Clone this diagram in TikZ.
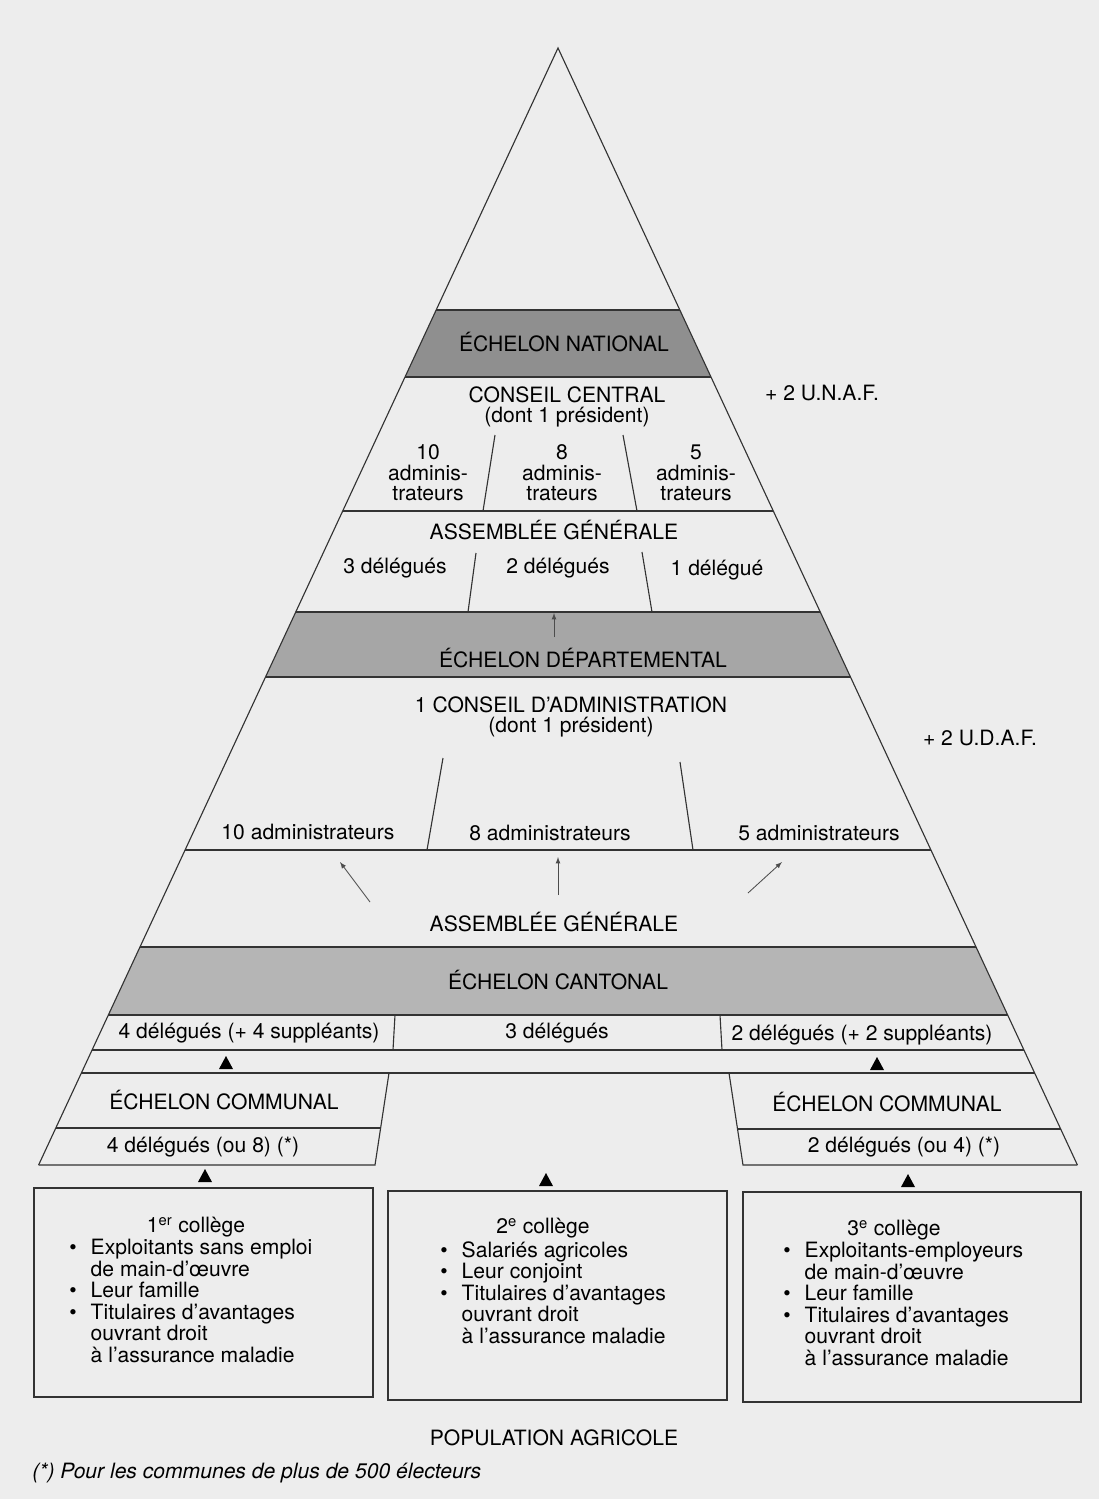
\documentclass[tikz,border=0pt]{standalone}
\usepackage{fontspec}
\setmainfont{TeX Gyre Heros}
\definecolor{paper}{gray}{0.93}
\definecolor{natband}{gray}{0.56}
\definecolor{depband}{gray}{0.65}
\definecolor{canband}{gray}{0.71}
\begin{document}
\begin{tikzpicture}[x=0.025cm, y=-0.025cm, font=\fontsize{15}{14.6}\selectfont,
  every node/.style={inner sep=0pt}, txt/.style={align=center},
  edge/.style={line width=0.8pt, black!80}, arr/.style={-latex, line width=0.6pt, black!70}]
\useasboundingbox[fill=paper] (0,0) rectangle (1099,1499);
\coordinate (apex) at (558,48);
\coordinate (bl) at (38.6,1165);
\coordinate (br) at (1077.4,1165);
\foreach \a/\b/\c in {310/377/natband, 612/677/depband, 947/1015/canband}
  \fill[\c] ({558-0.465*(\a-48)},\a) -- ({558+0.465*(\a-48)},\a) -- ({558+0.465*(\b-48)},\b) -- ({558-0.465*(\b-48)},\b) -- cycle;
\draw[edge] (bl) -- (apex) -- (br);
\foreach \y in {310,377,511,612,677,850,947,1015,1050,1073}
  \draw[edge] ({558-0.465*(\y-48)},\y) -- ({558+0.465*(\y-48)},\y);
\draw[edge] (389,1073) -- (375,1165) -- (bl);
\draw[edge] (729,1073) -- (743,1165) -- (br);
\draw[edge] (55.8,1128) -- (380.6,1128);
\draw[edge] (737.5,1129) -- (1060.6,1129);
\draw[edge] (495,435) -- (483,511);
\draw[edge] (623,435) -- (637,511);
\draw[edge] (476,553) -- (468,612);
\draw[edge] (642,552) -- (652,612);
\draw[edge] (443,758) -- (427,850);
\draw[edge] (680,762) -- (693,850);
\draw[edge] (395,1015) -- (393,1050);
\draw[edge] (720,1015) -- (722,1050);

\node (nat) at (564,342) {ÉCHELON NATIONAL};
\node[txt] (cc) at (567,407) {CONSEIL CENTRAL\\(dont 1 président)};
\node (unaf) at (822,393) {+ 2 U.N.A.F.};
\node[txt] (adm10) at (428,473) {10\\adminis-\\trateurs};
\node[txt] (adm8) at (562,473) {8\\adminis-\\trateurs};
\node[txt] (adm5) at (696,473) {5\\adminis-\\trateurs};
\node (agn) at (554,530) {ASSEMBLÉE GÉNÉRALE};
\node (del3) at (395,568) {3 délégués};
\node (del2) at (558,568) {2 délégués};
\node (del1) at (717,570) {1 délégué};
\node (dep) at (583,658) {ÉCHELON DÉPARTEMENTAL};
\node[txt] (ca) at (571,717) {1 CONSEIL D'ADMINISTRATION\\(dont 1 président)};
\node (udaf) at (980,738) {+ 2 U.D.A.F.};
\node (a10) at (308,832) {10 administrateurs};
\node (a8) at (550,833) {8 administrateurs};
\node (a5) at (819,833) {5 administrateurs};
\node (agd) at (554,922) {ASSEMBLÉE GÉNÉRALE};
\node (can) at (558,980) {ÉCHELON CANTONAL};
\node (c4) at (249,1033) {4 délégués (+ 4 suppléants)};
\node (c3) at (557,1033) {3 délégués};
\node (c2) at (862,1035) {2 délégués (+ 2 suppléants)};
\node (coml) at (224,1100) {ÉCHELON COMMUNAL};
\node (comr) at (887,1102) {ÉCHELON COMMUNAL};
\node (dl4) at (203,1147) {4 délégués (ou 8) (*)};
\node (dr2) at (904,1147) {2 délégués (ou 4) (*)};

\coordinate (up1) at (554,637);
\coordinate (up2) at (554,613);
\draw[arr] (up1) -- (up2);
\coordinate (agl) at (370,902);
\coordinate (agl2) at (340,862);
\coordinate (agm) at (558,895);
\coordinate (agm2) at (558,857);
\coordinate (agr) at (748,893);
\coordinate (agr2) at (782,862);
\draw[arr] (agl) -- (agl2);
\draw[arr] (agm) -- (agm2);
\draw[arr] (agr) -- (agr2);

\foreach \x/\y in {226/1063, 877/1064, 205/1176, 546/1180, 908/1181}
  \fill (\x,\y) ++(-7,6) -- ++(14,0) -- ++(-7,-13) -- cycle;

\draw[edge] (34,1188) rectangle (373,1397);
\draw[edge] (388,1191) rectangle (727,1400);
\draw[edge] (743,1192) rectangle (1081,1402);
\node (col1) at (196,1227) {1\textsuperscript{er} collège};
\node (col2) at (543,1228) {2\textsuperscript{e} collège};
\node (col3) at (894,1230) {3\textsuperscript{e} collège};
\node[anchor=north west] (lst1) at (69,1239) {\begin{tabular}{@{}l@{\hspace{10pt}}l@{}}
  \textbullet & Exploitants sans emploi\\ & de main-d'œuvre\\ \textbullet & Leur famille\\
  \textbullet & Titulaires d'avantages\\ & ouvrant droit\\ & à l'assurance maladie\end{tabular}};
\node[anchor=north west] (lst2) at (440,1241) {\begin{tabular}{@{}l@{\hspace{10pt}}l@{}}
  \textbullet & Salariés agricoles\\ \textbullet & Leur conjoint\\
  \textbullet & Titulaires d'avantages\\ & ouvrant droit\\ & à l'assurance maladie\end{tabular}};
\node[anchor=north west] (lst3) at (783,1242) {\begin{tabular}{@{}l@{\hspace{10pt}}l@{}}
  \textbullet & Exploitants-employeurs\\ & de main-d'œuvre\\ \textbullet & Leur famille\\
  \textbullet & Titulaires d'avantages\\ & ouvrant droit\\ & à l'assurance maladie\end{tabular}};

\node (pop) at (554,1438) {POPULATION AGRICOLE};
\node[anchor=west, font=\fontsize{15}{14.6}\selectfont\itshape] (note) at (32,1473) {(*) Pour les communes de plus de 500 électeurs};
\end{tikzpicture}
\end{document}
